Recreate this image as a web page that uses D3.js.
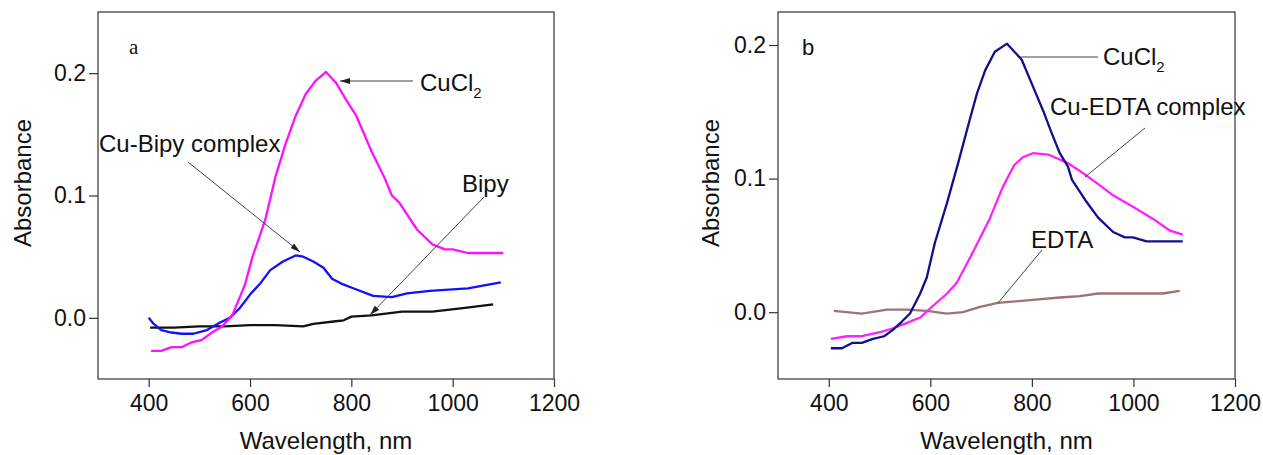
<!DOCTYPE html>
<html>
<head>
<meta charset="utf-8">
<script src="https://cdn.jsdelivr.net/npm/d3@7"></script>
<style>
  body { margin: 0; background: #fff; }
  text { font-family: Arial, "Liberation Sans", sans-serif; fill: #111; }
</style>
</head>
<body>
<svg id="viz" width="1263" height="455"></svg>
<script>
// panel a: [wavelength nm, absorbance]
var cuCl2A = [[405,-0.027],[425,-0.027],[445,-0.024],[465,-0.024],[485,-0.020],[505,-0.018],[525,-0.012],[545,-0.007],[565,0.002],[585,0.022],[590,0.027],[605,0.05],[630,0.08],[650,0.115],[670,0.142],[690,0.165],[710,0.183],[730,0.194],[750,0.201],[770,0.192],[790,0.178],[810,0.165],[840,0.136],[865,0.115],[880,0.1],[895,0.094],[930,0.072],[960,0.06],[985,0.056],[1000,0.056],[1030,0.053],[1100,0.053]];
var cuBipy = [[400,0.0],[410,-0.005],[425,-0.010],[445,-0.012],[465,-0.013],[488,-0.013],[515,-0.010],[540,-0.004],[560,0.0],[580,0.008],[600,0.019],[620,0.028],[640,0.039],[665,0.046],[690,0.051],[705,0.050],[725,0.046],[745,0.041],[762,0.032],[780,0.028],[805,0.024],[843,0.018],[880,0.017],[910,0.020],[955,0.022],[1030,0.024],[1095,0.029]];
var bipy = [[403,-0.008],[450,-0.008],[500,-0.007],[550,-0.007],[600,-0.006],[650,-0.006],[705,-0.007],[725,-0.005],[765,-0.003],[785,-0.002],[800,0.001],[840,0.002],[900,0.005],[960,0.005],[1020,0.008],[1080,0.011]];

// panel b
var cuCl2B = [[404,-0.027],[426,-0.027],[446,-0.023],[465,-0.023],[487,-0.020],[509,-0.018],[527,-0.013],[544,-0.007],[560,-0.001],[580,0.014],[593,0.026],[609,0.052],[633,0.082],[655,0.112],[674,0.139],[692,0.164],[708,0.181],[727,0.195],[751,0.201],[780,0.189],[802,0.169],[822,0.151],[839,0.134],[855,0.119],[871,0.109],[879,0.099],[905,0.084],[930,0.071],[960,0.060],[983,0.056],[999,0.056],[1026,0.053],[1097,0.053]];
var cuEdta = [[404,-0.020],[436,-0.018],[465,-0.018],[501,-0.015],[527,-0.012],[554,-0.008],[580,-0.004],[606,0.005],[633,0.014],[652,0.022],[684,0.045],[717,0.070],[743,0.094],[765,0.110],[782,0.116],[802,0.119],[832,0.118],[869,0.112],[901,0.104],[930,0.096],[958,0.088],[999,0.079],[1038,0.070],[1072,0.061],[1097,0.058]];
var edta = [[410,0.001],[465,-0.001],[515,0.002],[554,0.002],[593,0.001],[633,-0.001],[664,0.0],[698,0.004],[733,0.007],[796,0.009],[855,0.011],[895,0.012],[930,0.014],[993,0.014],[1058,0.014],[1091,0.016]];

var xTicks = [400, 600, 800, 1000, 1200];
var yTicks = [0.0, 0.1, 0.2];

var svg = d3.select("#viz");

svg.append("defs").append("marker")
  .attr("id", "arrow")
  .attr("viewBox", "0 0 10 6")
  .attr("refX", 10).attr("refY", 3)
  .attr("markerWidth", 10).attr("markerHeight", 6)
  .attr("markerUnits", "userSpaceOnUse")
  .attr("orient", "auto")
  .append("path")
  .attr("d", "M0,0 L10,3 L0,6 Z")
  .attr("fill", "#222");

function drawPanel(p) {
  var x = d3.scaleLinear().domain([300, 1200]).range([p.left, p.right]);
  var y = d3.scaleLinear().domain(p.yDomain).range([p.bottom, p.top]);
  var g = svg.append("g");

  g.append("rect")
    .attr("x", p.left).attr("y", p.top)
    .attr("width", p.right - p.left).attr("height", p.bottom - p.top)
    .attr("fill", "none").attr("stroke", "#333").attr("stroke-width", 1.2);

  var xAxis = g.append("g")
    .attr("transform", "translate(0," + p.bottom + ")")
    .call(d3.axisBottom(x).tickValues(xTicks).tickSize(8).tickPadding(6).tickFormat(d3.format("d")));
  var yAxis = g.append("g")
    .attr("transform", "translate(" + p.left + ",0)")
    .call(d3.axisLeft(y).tickValues(yTicks).tickSize(9).tickPadding(3).tickFormat(d3.format(".1f")));
  [xAxis, yAxis].forEach(function(a) {
    a.select(".domain").remove();
    a.selectAll("line").attr("stroke", "#333").attr("stroke-width", 1.2);
    a.selectAll("text").style("font-size", "23px").attr("fill", "#111");
  });
  xAxis.selectAll("text").attr("dy", "0.78em");

  g.append("text")
    .attr("x", (p.left + p.right) / 2).attr("y", 449)
    .attr("text-anchor", "middle").style("font-size", "24px")
    .text("Wavelength, nm");
  g.append("text")
    .attr("transform", "translate(" + p.titleX + ",183) rotate(-90)")
    .attr("text-anchor", "middle").style("font-size", "24px")
    .text("Absorbance");

  var line = d3.line().x(function(d) { return x(d[0]); }).y(function(d) { return y(d[1]); });
  p.series.forEach(function(s) {
    g.append("path").datum(s.data)
      .attr("d", line)
      .attr("fill", "none")
      .attr("stroke", s.color)
      .attr("stroke-width", 2.3)
      .attr("stroke-linejoin", "round");
  });
}

drawPanel({
  left: 98, right: 554, top: 12, bottom: 379, yDomain: [-0.05, 0.25], titleX: 31,
  series: [
    {data: bipy, color: "#111111"},
    {data: cuBipy, color: "#1010ff"},
    {data: cuCl2A, color: "#ff10ff"}
  ]
});

drawPanel({
  left: 778, right: 1235, top: 12, bottom: 379, yDomain: [-0.05, 0.2247], titleX: 719,
  series: [
    {data: edta, color: "#a07272"},
    {data: cuEdta, color: "#ff20ff"},
    {data: cuCl2B, color: "#10108a"}
  ]
});

// annotations
function label(x, y, txt, sub) {
  var t = svg.append("text").attr("x", x).attr("y", y).style("font-size", "24px").text(txt);
  if (sub) t.append("tspan").attr("dy", 7).style("font-size", "15px").text(sub);
}
function leader(x1, y1, x2, y2, arrow) {
  var l = svg.append("line")
    .attr("x1", x1).attr("y1", y1).attr("x2", x2).attr("y2", y2)
    .attr("stroke", "#444").attr("stroke-width", 1);
  if (arrow) l.attr("marker-end", "url(#arrow)");
}

svg.append("text").attr("x", 129).attr("y", 54)
  .style("font-family", "'Liberation Serif', 'Times New Roman', serif").style("font-size", "21px")
  .text("a");
label(420, 91, "CuCl", "2");
leader(413, 81, 340, 81, true);
label(99, 152, "Cu-Bipy complex");
leader(188, 162, 300, 252, true);
label(462, 192, "Bipy");
leader(484, 197, 370, 315, true);

svg.append("text").attr("x", 802).attr("y", 55).style("font-size", "22px").text("b");
label(1103, 65, "CuCl", "2");
leader(1098, 57, 1020, 57, false);
label(1050, 115, "Cu-EDTA complex");
leader(1145, 128, 1085, 177, false);
label(1031, 248, "EDTA");
leader(1042, 250, 998, 303, false);
</script>
</body>
</html>
